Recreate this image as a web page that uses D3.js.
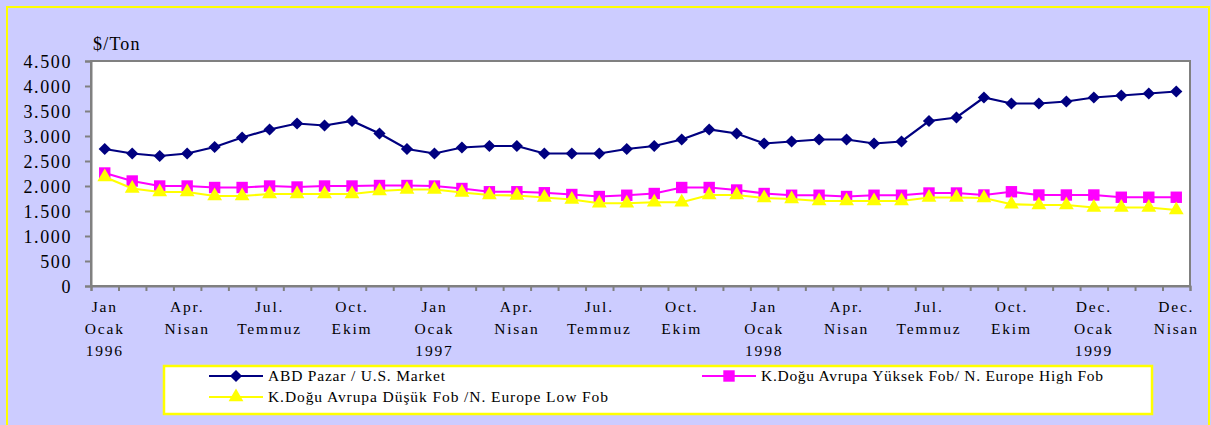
<!DOCTYPE html>
<html>
<head>
<meta charset="utf-8">
<script src="https://cdn.jsdelivr.net/npm/d3@7"></script>
<style>
  body { margin: 0; background: #ccccff; }
</style>
</head>
<body>
<svg id="chart"></svg>
<script>
const WIDTH = 1211;
const HEIGHT = 425;
const MARGIN = { left: 91, top: 61, right: 21, bottom: 139 };

// pick the first serif face that is actually installed
function pickFont(cands) {
  const ctx = document.createElement("canvas").getContext("2d");
  const probe = "Temmuz Ekim 1996 Wg";
  ctx.font = "40px monospace";
  const base = ctx.measureText(probe).width;
  for (const f of cands) {
    ctx.font = `40px "${f}", monospace`;
    if (Math.abs(ctx.measureText(probe).width - base) > 0.5) return `"${f}", serif`;
  }
  return "serif";
}
const FONT = pickFont(["Liberation Serif", "Times New Roman", "Tinos", "DejaVu Serif", "Noto Serif", "FreeSerif"]);

// values, $/ton
const usMarket = [2740, 2650, 2600, 2650, 2780, 2970, 3130, 3250, 3210, 3300,
                  3050, 2740, 2650, 2770, 2800, 2800, 2650, 2650, 2650, 2740,
                  2800, 2930, 3130, 3050, 2850, 2890, 2930, 2930, 2850, 2890,
                  3300, 3370, 3770, 3650, 3650, 3690, 3770, 3810, 3850, 3890];
const euHigh = [2260, 2100, 2000, 2000, 1970, 1970, 2000, 1980, 2000, 2000,
                2010, 2010, 2000, 1950, 1885, 1885, 1865, 1830, 1790, 1815,
                1850, 1970, 1970, 1920, 1850, 1815, 1815, 1790, 1815, 1815,
                1860, 1860, 1820, 1885, 1820, 1820, 1820, 1775, 1775, 1775];
const euLow = [2180, 1950, 1880, 1880, 1800, 1800, 1840, 1840, 1840, 1840,
               1900, 1930, 1930, 1870, 1820, 1810, 1770, 1730, 1655, 1655,
               1675, 1675, 1820, 1820, 1760, 1740, 1700, 1700, 1700, 1700,
               1770, 1770, 1760, 1635, 1620, 1620, 1570, 1570, 1570, 1520];

// one label every third point
const labelStep = 3;
const tickLabels = [
  ["Jan", "Ocak", "1996"], ["Apr.", "Nisan"], ["Jul.", "Temmuz"], ["Oct.", "Ekim"],
  ["Jan", "Ocak", "1997"], ["Apr.", "Nisan"], ["Jul.", "Temmuz"], ["Oct.", "Ekim"],
  ["Jan", "Ocak", "1998"], ["Apr.", "Nisan"], ["Jul.", "Temmuz"], ["Oct.", "Ekim"],
  ["Dec.", "Ocak", "1999"], ["Dec.", "Nisan"]
];
const yTicks = [0, 500, 1000, 1500, 2000, 2500, 3000, 3500, 4000, 4500];

const seriesNames = ["ABD Pazar / U.S. Market",
                     "K.Doğu Avrupa Yüksek Fob/ N. Europe High Fob",
                     "K.Doğu Avrupa Düşük Fob /N. Europe Low Fob"];
const seriesColors = ["#000080", "#ff00ff", "#ffff00"];
const seriesSymbols = ["diamond", "square", "triangle"];

const series = [usMarket, euHigh, euLow].map((values, i) => ({
  name: seriesNames[i], color: seriesColors[i], symbol: seriesSymbols[i], values
}));

const svg = d3.select("#chart").attr("width", WIDTH).attr("height", HEIGHT)
  .style("font-family", FONT);

// outer frame
svg.append("rect")
  .attr("x", 7).attr("y", 7)
  .attr("width", 1202).attr("height", 420)
  .attr("fill", "#ccccff")
  .attr("stroke", "#ffff00")
  .attr("stroke-width", 2);

const innerW = WIDTH - MARGIN.left - MARGIN.right;
const innerH = HEIGHT - MARGIN.top - MARGIN.bottom;

const x = d3.scaleBand().domain(d3.range(usMarket.length)).range([MARGIN.left, MARGIN.left + innerW]);
const xEdge = d3.scaleLinear().domain([0, usMarket.length]).range([MARGIN.left, MARGIN.left + innerW]);
const y = d3.scaleLinear().domain([0, 4500]).range([MARGIN.top + innerH, MARGIN.top]);
const cx = i => x(i) + x.bandwidth() / 2;

// plot area
svg.append("rect")
  .attr("x", MARGIN.left).attr("y", MARGIN.top)
  .attr("width", innerW).attr("height", innerH)
  .attr("fill", "#fff")
  .attr("stroke", "#808080")
  .attr("stroke-width", 2);

const locale = d3.formatLocale({ decimal: ",", thousands: ".", grouping: [3], currency: ["", ""] });
const fmt = locale.format(",d");

// y axis
const yAxis = svg.append("g")
  .attr("transform", `translate(${MARGIN.left},0)`)
  .call(d3.axisLeft(y).tickValues(yTicks).tickSize(6).tickPadding(13).tickFormat(fmt));
yAxis.attr("font-family", null).attr("font-size", null);
yAxis.select(".domain").attr("stroke", "#808080").attr("stroke-width", 2);
yAxis.selectAll(".tick line").attr("stroke", "#808080").attr("stroke-width", 2);
yAxis.selectAll(".tick text")
  .style("font-family", FONT)
  .style("font-size", "18px")
  .attr("letter-spacing", "1.6px")
  .attr("fill", "#000")
  .attr("dy", "0.35em");

// x axis tick marks between categories
const xAxis = svg.append("g")
  .attr("transform", `translate(0,${MARGIN.top + innerH})`)
  .call(d3.axisBottom(xEdge).tickValues(d3.range(usMarket.length + 1)).tickSize(5).tickFormat(""));
xAxis.select(".domain").attr("stroke", "#808080").attr("stroke-width", 2);
xAxis.selectAll(".tick line").attr("stroke", "#808080").attr("stroke-width", 2);

// category labels
const lab = svg.append("g").attr("class", "x-labels");
tickLabels.forEach((lines, k) => {
  const t = lab.append("text")
    .attr("x", cx(k * labelStep))
    .attr("y", 312)
    .attr("text-anchor", "middle")
    .style("font-family", FONT)
    .style("font-size", "15.5px")
    .attr("letter-spacing", "1.8px");
  lines.forEach((s, j) => {
    t.append("tspan").attr("x", cx(k * labelStep)).attr("y", 312 + j * 22).text(s);
  });
});

// unit label
svg.append("text")
  .attr("x", 93).attr("y", 50)
  .style("font-family", FONT)
  .style("font-size", "18px")
  .attr("letter-spacing", "1.2px")
  .text("$/Ton");

function symbolPath(name) {
  if (name === "diamond") return d3.symbol().type(d3.symbolDiamond2).size(95)();
  if (name === "square") return d3.symbol().type(d3.symbolSquare).size(130)();
  return d3.symbol().type(d3.symbolTriangle).size(95)();
}

const line = d3.line().x((d, i) => cx(i)).y(d => y(d));

series.forEach(s => {
  const g = svg.append("g").attr("class", "series");
  g.append("path")
    .attr("d", line(s.values))
    .attr("fill", "none")
    .attr("stroke", s.color)
    .attr("stroke-width", 2.2);
  g.selectAll("path.mark")
    .data(s.values)
    .enter()
    .append("path")
    .attr("class", "mark")
    .attr("d", symbolPath(s.symbol))
    .attr("transform", (d, i) => `translate(${cx(i)},${y(d)})`)
    .attr("fill", s.color);
});

// legend
const legend = svg.append("g").attr("class", "legend");
legend.append("rect")
  .attr("x", 164).attr("y", 366)
  .attr("width", 988).attr("height", 48)
  .attr("fill", "#fff")
  .attr("stroke", "#ffff00")
  .attr("stroke-width", 2.5);

const legendPos = [[209, 376], [702, 376], [209, 397]];
const legendTextWidth = [177, 342, 340];
series.forEach((s, i) => {
  const [lx, ly] = legendPos[i];
  legend.append("line")
    .attr("x1", lx).attr("x2", lx + 54)
    .attr("y1", ly).attr("y2", ly)
    .attr("stroke", s.color).attr("stroke-width", 2);
  legend.append("path")
    .attr("d", symbolPath(s.symbol))
    .attr("transform", `translate(${lx + 27},${ly})`)
    .attr("fill", s.color);
  legend.append("text")
    .attr("x", lx + 59).attr("y", ly + 5)
    .style("font-family", FONT)
    .style("font-size", "15.5px")
    .attr("textLength", legendTextWidth[i])
    .attr("lengthAdjust", "spacing")
    .text(s.name);
});
</script>
</body>
</html>
